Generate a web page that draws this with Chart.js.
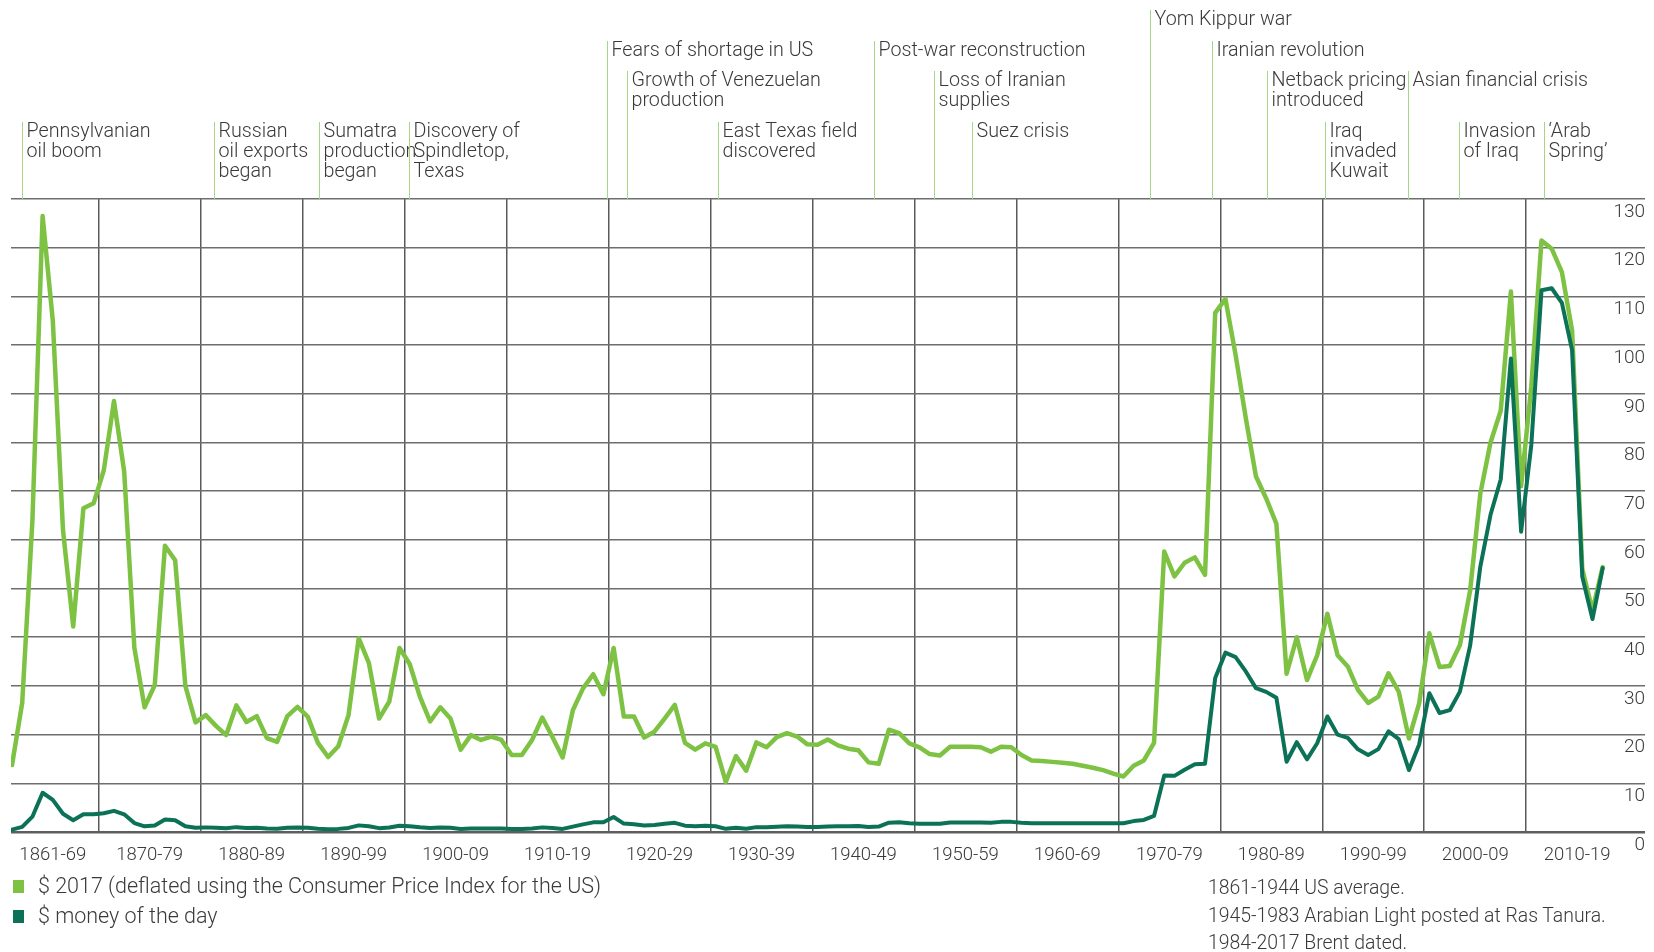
<!DOCTYPE html>
<html><head><meta charset="utf-8">
<script src="https://cdn.jsdelivr.net/npm/chart.js@4.4.1/dist/chart.umd.min.js"></script>
<style>
html,body{margin:0;padding:0;background:#fff;}
#wrap{position:relative;width:1654px;height:952px;overflow:hidden;font-family:Roboto,'Liberation Sans',sans-serif;font-weight:300;color:#3a3a3a;}
canvas{position:absolute;left:0;top:0;}
.leg{position:absolute;left:13px;font-size:21.5px;line-height:22px;white-space:nowrap;}
.sw{display:inline-block;width:11px;height:13px;vertical-align:0px;margin-right:14px;}
.note{position:absolute;left:1208px;font-size:19.4px;line-height:20px;white-space:nowrap;}
</style></head>
<body><div id="wrap"><canvas id="c" width="1654" height="952"></canvas><div id="legend"></div><div id="notes"></div></div>
<script>
// ---------- DATA ----------
const startYear = 1861;
const seriesNames = ['$ 2017 (deflated using the Consumer Price Index for the US)', '$ money of the day'];
const real2017 = [
  13.75, 26.5, 64, 126.5, 105, 62, 42.2, 66.5, 67.5, 74.3,
  88.5, 74, 37.8, 25.6, 30.2, 58.8, 55.8, 30, 22.5, 24,
  21.8, 19.9, 26, 22.6, 23.8, 19.3, 18.5, 23.8, 25.7, 23.7,
  18.3, 15.4, 17.6, 24, 39.8, 34.7, 23.3, 26.8, 37.8, 34.5,
  27.8, 22.7, 25.6, 23.3, 16.9, 19.9, 18.9, 19.6, 18.9, 15.8,
  15.8, 18.9, 23.5, 19.5, 15.3, 25, 29.5, 32.4, 28.3, 37.8,
  23.7, 23.7, 19.4, 20.6, 23.3, 26.1, 18.3, 16.9, 18.2, 17.5,
  10.3, 15.6, 12.6, 18.4, 17.4, 19.5, 20.3, 19.6, 18, 17.9,
  19, 17.8, 17.1, 16.8, 14.3, 14, 21, 20.3, 18.2, 17.4,
  16, 15.7, 17.5, 17.5, 17.5, 17.4, 16.5, 17.5, 17.4, 15.8,
  14.7, 14.6, 14.4, 14.2, 14, 13.6, 13.2, 12.7, 12, 11.4,
  13.6, 14.7, 18.3, 57.6, 52.5, 55.3, 56.4, 52.8, 106.6, 109.5,
  98, 85, 73, 68.5, 63.3, 32.5, 40, 31.2, 36.3, 44.8,
  36.3, 34, 29.2, 26.5, 27.8, 32.6, 28.8, 19.2, 26.4, 40.8,
  33.9, 34.1, 38.4, 49.6, 69.5, 80, 86.5, 111, 71, 91.5,
  121.5, 119.8, 115, 103, 54, 45.5, 54.4
];
const moneyOfDay = [
  0.49, 1.05, 3.15, 8.06, 6.59, 3.74, 2.41, 3.63, 3.64, 3.86,
  4.34, 3.64, 1.83, 1.17, 1.35, 2.56, 2.42, 1.19, 0.86, 0.95,
  0.86, 0.78, 1.00, 0.84, 0.88, 0.71, 0.67, 0.88, 0.94, 0.87,
  0.67, 0.56, 0.64, 0.84, 1.36, 1.18, 0.79, 0.91, 1.29, 1.19,
  0.96, 0.80, 0.94, 0.86, 0.62, 0.73, 0.72, 0.72, 0.70, 0.61,
  0.61, 0.74, 0.95, 0.81, 0.64, 1.10, 1.56, 1.98, 2.01, 3.07,
  1.73, 1.61, 1.34, 1.43, 1.68, 1.88, 1.30, 1.17, 1.27, 1.19,
  0.65, 0.87, 0.67, 1.00, 0.97, 1.09, 1.18, 1.13, 1.02, 1.02,
  1.14, 1.19, 1.20, 1.21, 1.05, 1.12, 1.90, 1.99, 1.78, 1.71,
  1.71, 1.71, 1.93, 1.93, 1.93, 1.93, 1.90, 2.08, 2.08, 1.90,
  1.80, 1.80, 1.80, 1.80, 1.80, 1.80, 1.80, 1.80, 1.80, 1.80,
  2.24, 2.48, 3.29, 11.58, 11.53, 12.80, 13.92, 14.02, 31.61, 36.83,
  35.93, 32.97, 29.55, 28.78, 27.56, 14.43, 18.44, 14.92, 18.23, 23.73,
  20.00, 19.32, 16.97, 15.82, 17.02, 20.67, 19.09, 12.72, 17.97, 28.50,
  24.44, 25.02, 28.83, 38.27, 54.52, 65.14, 72.39, 97.26, 61.67, 79.50,
  111.26, 111.67, 108.66, 98.95, 52.39, 43.73, 54.19
];
const decadeStarts = [1861, 1870, 1880, 1890, 1900, 1910, 1920, 1930, 1940, 1950, 1960, 1970, 1980, 1990, 2000, 2010];
const decadeLabels = ['1861-69','1870-79','1880-89','1890-99','1900-09','1910-19','1920-29','1930-39','1940-49','1950-59','1960-69','1970-79','1980-89','1990-99','2000-09','2010-19'];
const yTickValues = [0,10,20,30,40,50,60,70,80,90,100,110,120,130];
const eventYears = [1862, 1880.8, 1891.1, 1899.9, 1919.35, 1921.3, 1930.2, 1945.5, 1951.4, 1955.1, 1972.6, 1978.7, 1984.1, 1989.8, 1997.9, 2002.9, 2011.25];
const eventRows  = [3, 3, 3, 3, 1, 2, 3, 1, 2, 3, 0, 1, 2, 3, 2, 3, 3];
const eventLabels = [
  'Pennsylvanian\noil boom', 'Russian\noil exports\nbegan', 'Sumatra\nproduction\nbegan', 'Discovery of\nSpindletop,\nTexas',
  'Fears of shortage in US', 'Growth of Venezuelan\nproduction', 'East Texas field\ndiscovered',
  'Post-war reconstruction', 'Loss of Iranian\nsupplies', 'Suez crisis', 'Yom Kippur war', 'Iranian revolution',
  'Netback pricing\nintroduced', 'Iraq\ninvaded\nKuwait', 'Asian financial crisis', 'Invasion\nof Iraq', '\u2018Arab\nSpring\u2019'
];
const notes = ['1861-1944 US average.', '1945-1983 Arabian Light posted at Ras Tanura.', '1984-2017 Brent dated.'];

// ---------- derived ----------
const years = real2017.map((_, i) => startYear + i);
const decadeBounds = decadeStarts.slice(1).map(s => s - 0.5);
const decadeCenters = decadeStarts.map((s, i) => {
  const lo = s - 0.5;
  const hi = (i + 1 < decadeStarts.length ? decadeStarts[i + 1] : s + 10) - 0.5;
  return (lo + hi) / 2;
});

const LIGHT = '#7dc243';
const DARK = '#0b7157';
const TXT = '#3a3a3a';
const FONT = "Roboto, 'Liberation Sans', sans-serif";
const X_MIN = 1860.9, X_MAX = 2021.15;

const eventsPlugin = {
  id: 'events',
  afterDraw(chart) {
    const {ctx, chartArea} = chart;
    const xs = chart.scales.x;
    const rowY = [20, 51, 81, 132];
    const lh = 20;
    ctx.save();
    ctx.font = '300 19.7px ' + FONT;
    ctx.textBaseline = 'middle';
    ctx.textAlign = 'left';
    ctx.fillStyle = TXT;
    ctx.strokeStyle = '#a8d486';
    ctx.lineWidth = 1;
    eventYears.forEach((yr, i) => {
      const px = Math.round(xs.getPixelForValue(yr)) + 0.5;
      const y0 = rowY[eventRows[i]];
      ctx.beginPath();
      ctx.moveTo(px, y0 - 10);
      ctx.lineTo(px, chartArea.top);
      ctx.stroke();
      eventLabels[i].split('\n').forEach((ln, j) => ctx.fillText(ln, px + 4, y0 + j * lh));
    });
    ctx.restore();
  }
};

new Chart(document.getElementById('c'), {
  type: 'line',
  data: {
    datasets: [
      { label: seriesNames[1], data: years.map((y, i) => ({x: y, y: moneyOfDay[i]})),
        borderColor: DARK, backgroundColor: DARK, borderWidth: 4, pointRadius: 0, tension: 0,
        borderJoinStyle: 'round', borderCapStyle: 'round', order: 0 },
      { label: seriesNames[0], data: years.map((y, i) => ({x: y, y: real2017[i]})),
        borderColor: LIGHT, backgroundColor: LIGHT, borderWidth: 4.5, pointRadius: 0, tension: 0,
        borderJoinStyle: 'round', borderCapStyle: 'round', order: 1 }
    ]
  },
  options: {
    responsive: false, animation: false, devicePixelRatio: 1,
    layout: { padding: { left: 11, right: 9, top: 199, bottom: 80 }, autoPadding: false },
    plugins: { legend: { display: false }, tooltip: { enabled: false } },
    scales: {
      x: {
        type: 'linear', min: X_MIN, max: X_MAX, position: 'bottom',
        grid: { display: false }, border: { display: false },
        afterBuildTicks: s => { s.ticks = decadeCenters.map(v => ({ value: v })); },
        afterFit: s => { s.height = 40; },
        ticks: { autoSkip: false, maxRotation: 0, minRotation: 0, padding: 4,
                 font: { size: 18.5, weight: '300', family: FONT }, color: TXT,
                 callback: (v, i) => decadeLabels[i] }
      },
      xGrid: {
        type: 'linear', min: X_MIN, max: X_MAX, position: 'bottom',
        ticks: { display: false },
        grid: { color: '#5a5a5a', lineWidth: 1.5, drawTicks: false },
        border: { display: false },
        afterBuildTicks: s => { s.ticks = decadeBounds.map(v => ({ value: v })); },
        afterFit: s => { s.height = 0; }
      },
      y: {
        position: 'right', min: 0, max: 130,
        afterBuildTicks: s => { s.ticks = yTickValues.map(v => ({ value: v })); },
        ticks: { mirror: true, padding: 0, labelOffset: 13,
                 font: { size: 19, weight: '300', family: FONT }, color: TXT },
        grid: { drawTicks: false,
                color: c => (c.tick && c.tick.value === 0) ? '#5e5e5e' : '#6e6e6e',
                lineWidth: c => (c.tick && c.tick.value === 0) ? 2.5 : 1.5 },
        border: { display: false }
      }
    }
  },
  plugins: [eventsPlugin]
});

// HTML legend + notes
const legend = document.getElementById('legend');
[[seriesNames[0], LIGHT, 875], [seriesNames[1], DARK, 905]].forEach(([name, col, top]) => {
  const d = document.createElement('div');
  d.className = 'leg'; d.style.top = top + 'px';
  d.innerHTML = '<span class="sw" style="background:' + col + '"></span>';
  d.appendChild(document.createTextNode(name));
  legend.appendChild(d);
});
const notesEl = document.getElementById('notes');
notes.forEach((t, i) => {
  const d = document.createElement('div');
  d.className = 'note'; d.style.top = (878 + i * 27.5) + 'px';
  d.textContent = t;
  notesEl.appendChild(d);
});
</script>
</body></html>
